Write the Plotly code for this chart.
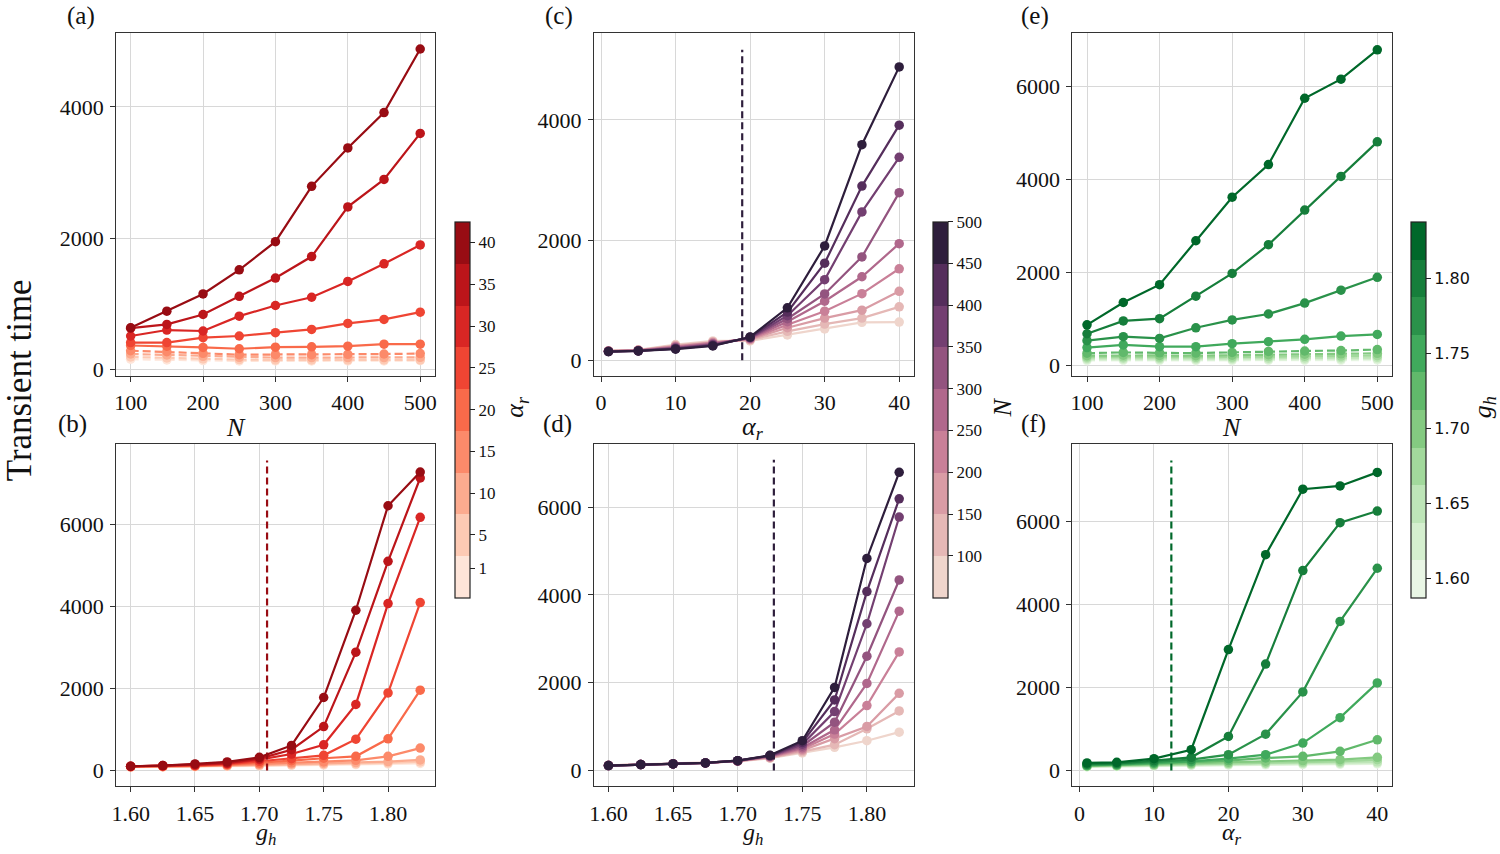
import plotly.graph_objects as go

# parameter grids
N_vals = [100, 150, 200, 250, 300, 350, 400, 450, 500]
alpha_vals = [1, 5, 10, 15, 20, 25, 30, 35, 40]
gh_vals = [1.600, 1.625, 1.650, 1.675, 1.700, 1.725, 1.750, 1.775, 1.800, 1.825]

# (a) transient time vs N, one row per alpha_r (1 ... 40)
a_T = [
    [150, 140, 130, 125, 125, 125, 125, 125, 130],
    [185, 170, 155, 145, 140, 140, 140, 140, 140],
    [230, 215, 195, 180, 175, 175, 175, 175, 180],
    [280, 265, 240, 220, 220, 220, 225, 230, 237],
    [360, 350, 330, 310, 335, 340, 350, 380, 380],
    [404, 404, 480, 505, 556, 606, 697, 758, 869],
    [505, 596, 581, 808, 970, 1096, 1338, 1606, 1894],
    [625, 682, 833, 1111, 1389, 1717, 2475, 2894, 3596],
    [631, 884, 1146, 1515, 1944, 2788, 3374, 3914, 4884],
]
# (b) transient time vs g_h, one row per alpha_r
b_T = [
    [85, 90, 95, 105, 115, 125, 135, 145, 160, 175],
    [90, 95, 100, 110, 125, 140, 150, 165, 185, 210],
    [90, 95, 105, 120, 140, 160, 175, 195, 220, 260],
    [95, 100, 110, 130, 160, 190, 210, 250, 347, 548],
    [100, 105, 120, 145, 185, 240, 300, 347, 774, 1960],
    [100, 110, 125, 155, 226, 290, 371, 766, 1895, 4097],
    [100, 115, 135, 170, 266, 403, 629, 1613, 4073, 6177],
    [105, 121, 145, 185, 290, 508, 1073, 2887, 5105, 7137],
    [105, 121, 161, 210, 323, 613, 1782, 3911, 6460, 7282],
]
# (c) transient time vs alpha_r, one row per N (100 ... 500)
c_T = [
    [158, 170, 260, 320, 320, 420, 520, 630, 634],
    [155, 168, 248, 305, 335, 480, 600, 700, 887],
    [152, 165, 235, 295, 345, 540, 700, 832, 1146],
    [150, 162, 225, 285, 355, 590, 815, 1107, 1521],
    [148, 160, 215, 275, 365, 640, 981, 1388, 1939],
    [146, 158, 205, 265, 370, 690, 1102, 1719, 2788],
    [145, 156, 195, 255, 375, 740, 1339, 2468, 3377],
    [143, 154, 190, 245, 380, 800, 1614, 2898, 3912],
    [143, 154, 182, 237, 386, 871, 1901, 3587, 4882],
]
# (d) transient time vs g_h, one row per N
d_T = [
    [118, 140, 155, 172, 210, 280, 400, 528, 679, 875],
    [117, 139, 154, 172, 212, 290, 430, 589, 951, 1358],
    [116, 138, 153, 172, 215, 300, 460, 725, 1004, 1758],
    [115, 137, 152, 172, 218, 310, 490, 830, 1479, 2702],
    [114, 136, 151, 172, 220, 320, 520, 928, 1985, 3630],
    [113, 136, 151, 173, 222, 330, 560, 1102, 2604, 4340],
    [113, 136, 151, 174, 224, 335, 600, 1343, 3343, 5774],
    [113, 136, 151, 174, 225, 340, 640, 1608, 4075, 6189],
    [113, 136, 151, 174, 226, 347, 679, 1894, 4830, 6792],
]
# (e) transient time vs N, one row per g_h (1.600 ... 1.825)
e_T = [
    [105, 108, 105, 102, 104, 106, 108, 110, 115],
    [125, 130, 125, 122, 125, 128, 130, 135, 140],
    [150, 155, 150, 148, 150, 155, 160, 165, 170],
    [180, 185, 180, 175, 180, 190, 195, 200, 210],
    [210, 220, 215, 210, 220, 230, 240, 250, 260],
    [262, 280, 270, 265, 280, 300, 310, 320, 340],
    [383, 440, 404, 404, 468, 510, 560, 631, 666],
    [532, 617, 581, 809, 979, 1106, 1340, 1617, 1894],
    [681, 957, 1006, 1489, 1979, 2596, 3340, 4064, 4808],
    [872, 1353, 1737, 2681, 3617, 4319, 5745, 6156, 6787],
]
# (f) transient time vs alpha_r, one row per g_h
f_T = [
    [90, 100, 112, 122, 130, 137, 143, 150, 158],
    [95, 106, 120, 133, 145, 152, 160, 168, 180],
    [100, 112, 128, 145, 158, 170, 180, 190, 210],
    [105, 118, 138, 158, 175, 190, 205, 220, 263],
    [112, 125, 150, 175, 200, 225, 240, 263, 319],
    [120, 135, 167, 200, 239, 303, 343, 462, 741],
    [127, 143, 183, 223, 287, 382, 661, 1275, 2112],
    [143, 159, 207, 263, 382, 876, 1896, 3594, 4876],
    [159, 175, 239, 319, 821, 2566, 4821, 5976, 6255],
    [183, 199, 287, 502, 2916, 5203, 6781, 6861, 7187],
]

# critical values (vertical dashed lines) and their heights
alpha_crit = 18.94
gh_crit_b = 1.706
gh_crit_d = 1.728
alpha_crit_f = 12.33
vline_top = {"b": 7565, "c": 5168, "d": 7079, "f": 7474}

reds = ['#fee5d9', '#fdcab4', '#fcab8f', '#fc8a6a', '#f96a4a',
        '#ef4533', '#d92624', '#bc151a', '#980c13']
purples = ['#efd5cc', '#e5b8b6', '#d99ca5', '#c98098', '#b0688c',
           '#93547f', '#733f71', '#552e5c', '#2e1e3c']
greens = ['#e9f6e5', '#d5efcf', '#bee5b8', '#a2d99c', '#84ca81',
          '#61b96b', '#40a95c', '#2a924a', '#167e3b', '#00682a']

W, H = 1500, 854
SERIF = "Liberation Serif"


def fx(p):
    return p / W


def fy(p):
    return 1 - p / H


def steps(colors):
    n = len(colors)
    cs = []
    for i, c in enumerate(colors):
        cs += [[i / n, c], [(i + 1) / n, c]]
    return cs


fig = go.Figure()


def add_panel(k, xs, rows, colors, dashed=None):
    for i, ys in enumerate(rows):
        dash = "8px,4px" if dashed is not None and dashed[i] else "solid"
        fig.add_trace(go.Scatter(
            x=xs, y=ys, mode="lines+markers",
            line=dict(color=colors[i], width=2.2, dash=dash),
            marker=dict(color=colors[i], size=9.5),
            xaxis="x%d" % k, yaxis="y%d" % k,
            showlegend=False, hoverinfo="skip"))


def add_vline(k, xc, top, color):
    fig.add_trace(go.Scatter(
        x=[xc, xc], y=[0, top], mode="lines",
        line=dict(color=color, width=2.2, dash="7px,4px"),
        xaxis="x%d" % k, yaxis="y%d" % k,
        showlegend=False, hoverinfo="skip"))


add_panel(1, N_vals, a_T, reds, [a < alpha_crit for a in alpha_vals])
add_panel(2, gh_vals, b_T, reds)
add_vline(2, gh_crit_b, vline_top["b"], reds[-1])
add_panel(3, alpha_vals, c_T, purples)
add_vline(3, alpha_crit, vline_top["c"], purples[-1])
add_panel(4, gh_vals, d_T, purples)
add_vline(4, gh_crit_d, vline_top["d"], purples[-1])
add_panel(5, N_vals, e_T, greens, [g < gh_crit_d for g in gh_vals])
add_panel(6, alpha_vals, f_T, greens)
add_vline(6, alpha_crit_f, vline_top["f"], greens[-1])


def add_cbar(k, left, colors, cmin, cmax, tickvals, ticktext, font, size):
    fig.add_trace(go.Scatter(
        x=[None], y=[None], mode="markers",
        marker=dict(color=[cmin], cmin=cmin, cmax=cmax,
                    colorscale=steps(colors), showscale=True,
                    colorbar=dict(
                        x=fx(left), xanchor="left", xpad=0, ypad=0,
                        y=fy(412.5), yanchor="middle",
                        len=379 / H, lenmode="fraction",
                        thickness=15, thicknessmode="pixels",
                        outlinewidth=1.2, outlinecolor="#222",
                        tickvals=tickvals, ticktext=ticktext,
                        ticks="outside", ticklen=5, tickwidth=1,
                        tickcolor="#222",
                        tickfont=dict(family=font, size=size, color="#111"))),
        xaxis="x%d" % k, yaxis="y%d" % k,
        showlegend=False, hoverinfo="skip"))


add_cbar(1, 452, reds, -2.5, 42.5, alpha_vals, [str(a) for a in alpha_vals], SERIF, 17)
add_cbar(3, 932, purples, 50, 500, N_vals, [str(n) for n in N_vals], SERIF, 17)
gh_ticks = [1.60, 1.65, 1.70, 1.75, 1.80]
add_cbar(5, 1413, greens, 1.5875, 1.8375, gh_ticks, ["%.2f" % g for g in gh_ticks],
         "DejaVu Sans", 16)

ax_style = dict(
    showgrid=True, gridcolor="#d8d8d8", gridwidth=1,
    showline=True, linecolor="#333", linewidth=1.3, mirror=True,
    ticks="outside", ticklen=5, tickwidth=1.2, tickcolor="#333",
    tickfont=dict(family=SERIF, size=22, color="#111"),
    zeroline=False, ticklabelstandoff=2,
)

cols = {1: (111.7, 431.7), 3: (591.7, 913.0), 5: (1072.5, 1393.3)}
top_row = (33.3, 378.3)
bot_row = (446.7, 791.7)

panels = {
    1: dict(col=1, row=top_row, xr=[80, 520], yr=[-100, 5127],
            xt=[100, 200, 300, 400, 500], yt=[0, 2000, 4000]),
    2: dict(col=1, row=bot_row, xr=[1.58875, 1.83625], yr=[-380, 7977],
            xt=gh_ticks, yt=[0, 2000, 4000, 6000]),
    3: dict(col=3, row=top_row, xr=[-0.95, 41.95], yr=[-258, 5445],
            xt=[0, 10, 20, 30, 40], yt=[0, 2000, 4000]),
    4: dict(col=3, row=bot_row, xr=[1.58875, 1.83625], yr=[-355, 7447],
            xt=gh_ticks, yt=[0, 2000, 4000, 6000]),
    5: dict(col=5, row=top_row, xr=[80, 520], yr=[-220, 7147],
            xt=[100, 200, 300, 400, 500], yt=[0, 2000, 4000, 6000]),
    6: dict(col=5, row=bot_row, xr=[-0.95, 41.95], yr=[-376, 7882],
            xt=[0, 10, 20, 30, 40], yt=[0, 2000, 4000, 6000]),
}

layout = {}
for k, p in panels.items():
    x0, x1 = cols[p["col"]]
    y0, y1 = p["row"]
    xt = p["xt"]
    xtext = ["%.2f" % v for v in xt] if isinstance(xt[0], float) else [str(v) for v in xt]
    layout["xaxis%d" % k] = dict(ax_style, domain=[fx(x0), fx(x1)], range=p["xr"],
                                 tickvals=xt, ticktext=xtext, anchor="y%d" % k)
    layout["yaxis%d" % k] = dict(ax_style, domain=[fy(y1), fy(y0)], range=p["yr"],
                                 tickvals=p["yt"], anchor="x%d" % k)

annotations = []


def label(x, y, text, size, angle=0):
    annotations.append(dict(
        x=fx(x), y=fy(y), xref="paper", yref="paper", text=text,
        showarrow=False, textangle=angle, xanchor="center", yanchor="middle",
        font=dict(family=SERIF, size=size, color="#111")))


for txt, x, y in [("(a)", 76, 16), ("(b)", 68, 427), ("(c)", 557, 16),
                  ("(d)", 555, 427), ("(e)", 1035, 16), ("(f)", 1033, 427)]:
    label(x, y, txt, 25)

label(232, 431, "<i>N</i>", 26)
label(262, 840, "<i>g<sub>h</sub></i>", 24)
label(752, 431, "<i>α<sub>r</sub></i>", 26)
label(752, 840, "<i>g<sub>h</sub></i>", 24)
label(1233, 431, "<i>N</i>", 26)
label(1233, 840, "<i>α<sub>r</sub></i>", 24)
label(14, 383, "Transient time", 35, -90)
label(514, 410, "<i>α<sub>r</sub></i>", 26, -90)
label(1002, 410, "<i>N</i>", 26, -90)
label(1486, 410, "<i>g<sub>h</sub></i>", 26, -90)

fig.update_layout(
    width=W, height=H,
    margin=dict(l=0, r=0, t=0, b=0),
    paper_bgcolor="white", plot_bgcolor="white",
    annotations=annotations,
    **layout,
)

fig.write_html("out.html", config={"displayModeBar": False},
               post_script="document.body.style.margin='0px';")
